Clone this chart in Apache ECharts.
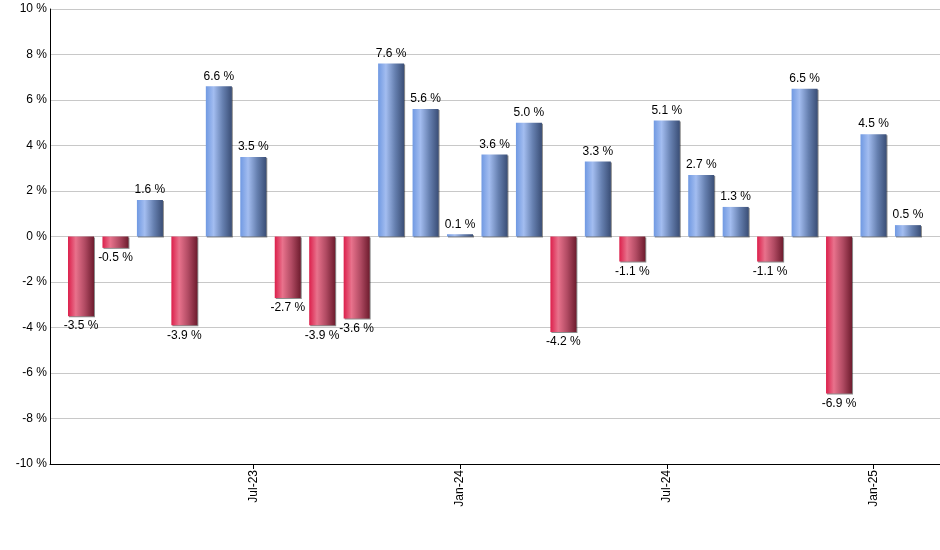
<!DOCTYPE html>
<html>
<head>
<meta charset="utf-8">
<script src="https://cdn.jsdelivr.net/npm/echarts@6/dist/echarts.min.js"></script>
<style>
html,body{margin:0;padding:0;background:#fff;}
#chart{width:940px;height:550px;}
</style>
</head>
<body>
<div id="chart"></div>
<script>
const months = ['Feb-23','Mar-23','Apr-23','May-23','Jun-23','Jul-23','Aug-23','Sep-23','Oct-23','Nov-23','Dec-23','Jan-24','Feb-24','Mar-24','Apr-24','May-24','Jun-24','Jul-24','Aug-24','Sep-24','Oct-24','Nov-24','Dec-24','Jan-25','Feb-25'];
const returns = [-3.5,-0.5,1.6,-3.9,6.6,3.5,-2.7,-3.9,-3.6,7.6,5.6,0.1,3.6,5.0,-4.2,3.3,-1.1,5.1,2.7,1.3,-1.1,6.5,-6.9,4.5,0.5];
const tickLabels = ['Jul-23','Jan-24','Jul-24','Jan-25'];
const yTicks = [-10,-8,-6,-4,-2,0,2,4,6,8,10];

const tickIdx = tickLabels.map(l => months.indexOf(l));

const blueGrad = new echarts.graphic.LinearGradient(0,0,1,0,[
  {offset:0,color:'#7099e2'},{offset:0.3,color:'#a3bdf0'},{offset:0.65,color:'#6680b0'},{offset:1,color:'#3a4e76'}]);
const redGrad = new echarts.graphic.LinearGradient(0,0,1,0,[
  {offset:0,color:'#dc1f4b'},{offset:0.3,color:'#e8728c'},{offset:0.65,color:'#b04a62'},{offset:1,color:'#6e1c2e'}]);

const data = returns.map((v,i) => ({
  value:[i,v],
  itemStyle:{color: v >= 0 ? blueGrad : redGrad},
  label:{position: v >= 0 ? 'top' : 'bottom'}
}));

const chart = echarts.init(document.getElementById('chart'), null, {renderer:'canvas'});
chart.setOption({
  animation:false,
  backgroundColor:'#fff',
  grid:{left:50,right:0,top:9,bottom:86,containLabel:false},
  xAxis:{
    type:'value',
    min:-0.9,
    max:24.93,
    splitLine:{show:false},
    axisLine:{onZero:false,lineStyle:{color:'#000',width:1}},
    axisTick:{show:true,customValues:tickIdx,length:5,lineStyle:{color:'#000'}},
    axisLabel:{
      customValues:tickIdx,
      rotate:90,
      margin:6,
      color:'#000',
      fontFamily:'Liberation Sans, Arial, sans-serif',
      fontSize:12,
      formatter:function(v){return months[Math.round(v)];}
    }
  },
  yAxis:{
    type:'value',
    min:yTicks[0],
    max:yTicks[yTicks.length-1],
    interval:2,
    axisLine:{show:true,onZero:false,lineStyle:{color:'#000',width:1}},
    axisTick:{show:false},
    splitLine:{show:true,lineStyle:{color:'#c8c8c8',width:1}},
    axisLabel:{
      margin:3,
      color:'#000',
      fontFamily:'Liberation Sans, Arial, sans-serif',
      fontSize:12,
      formatter:function(v){return v + ' %';}
    }
  },
  series:[{
    type:'bar',
    barWidth:26,
    data:data,
    itemStyle:{shadowColor:'rgba(0,0,0,0.45)',shadowOffsetX:1,shadowOffsetY:1,shadowBlur:0},
    label:{
      show:true,
      distance:4,
      color:'#000',
      fontFamily:'Liberation Sans, Arial, sans-serif',
      fontSize:12,
      formatter:function(p){return p.value[1].toFixed(1) + ' %';}
    }
  }]
});
</script>
</body>
</html>
